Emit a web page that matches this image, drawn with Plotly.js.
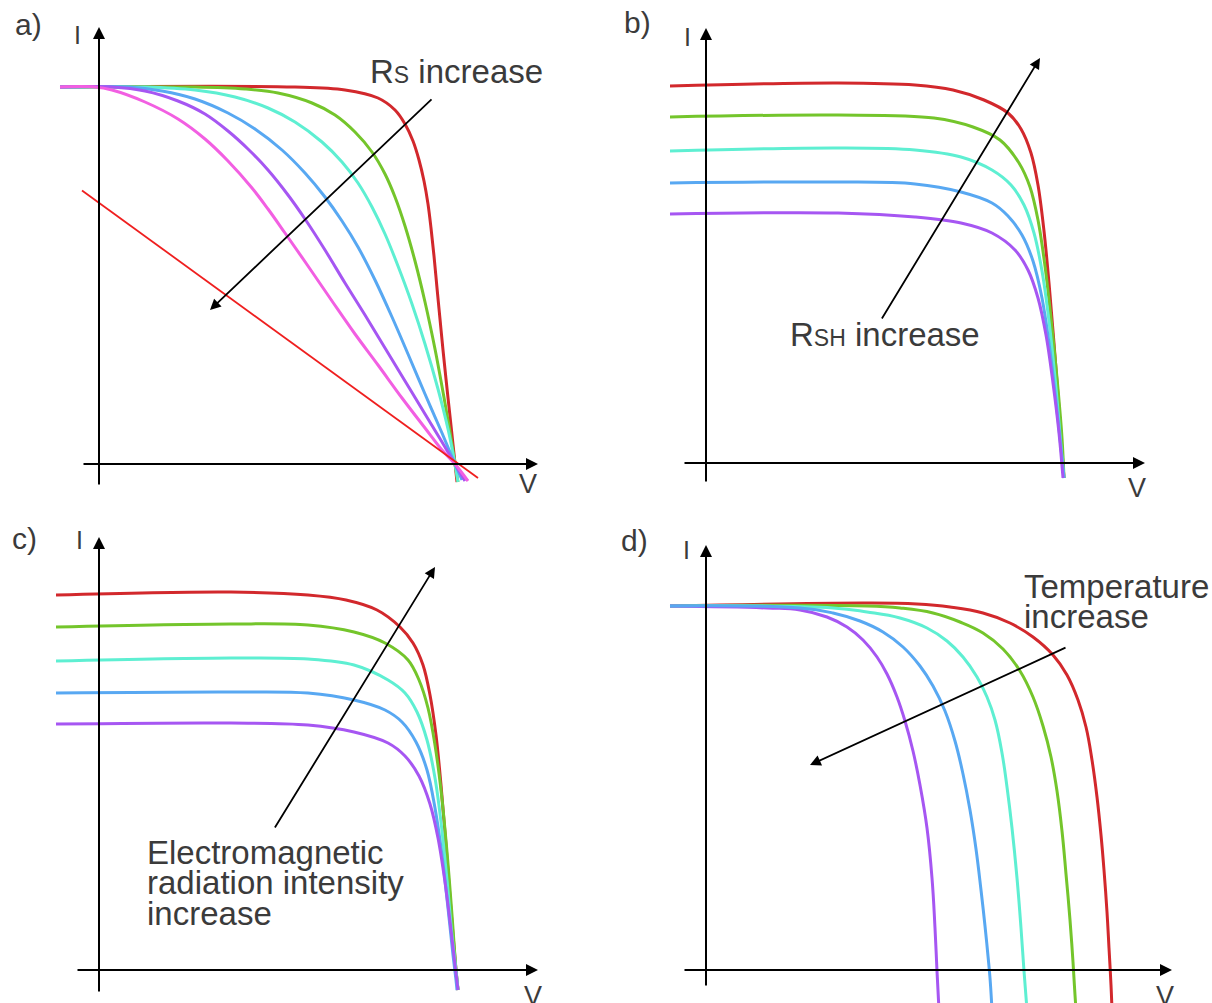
<!DOCTYPE html>
<html>
<head>
<meta charset="utf-8">
<script src="https://cdn.plot.ly/plotly-3.0.1.min.js"></script>
<style>html,body{margin:0;padding:0;background:#fff;}#chart{width:1212px;height:1003px;}</style>
</head>
<body>
<div id="chart"></div>
<script>
// Panel a) series resistance Rs
const aRedV = [-39, 196, 246, 279, 296, 306, 314, 320, 325, 329, 332, 335, 338, 341, 344, 347, 350, 353, 356, 358];
const aRedI = [377, 377, 374, 366, 354, 340, 323, 304, 283, 260, 236, 208, 176, 145, 114, 85, 57, 29, 1, -18];
const aGreenV = [-39, 96, 146, 179, 213, 236, 256, 273, 286, 296, 306, 316, 326, 336, 344, 351, 356, 359];
const aGreenI = [377, 377, 375, 371, 361, 349, 332, 312, 290, 267, 238, 203, 162, 115, 72, 32, 0, -18];
const aCyanV = [-39, 46, 96, 136, 169, 196, 223, 243, 259, 273, 286, 299, 313, 326, 339, 349, 356, 359];
const aCyanI = [377, 377, 374, 367, 356, 342, 322, 302, 281, 257, 230, 198, 160, 120, 75, 35, 0, -18];
const aBlueV = [-39, 29, 63, 96, 129, 156, 183, 206, 226, 243, 259, 276, 293, 309, 326, 343, 356, 363];
const aBlueI = [377, 377, 373, 365, 351, 335, 314, 291, 267, 243, 217, 184, 147, 110, 70, 31, 0, -16];
const aPurpleV = [-39, 13, 46, 79, 106, 129, 149, 169, 189, 206, 226, 246, 266, 286, 306, 326, 343, 356, 366];
const aPurpleI = [377, 377, 373, 363, 350, 333, 315, 294, 269, 245, 214, 181, 149, 116, 83, 50, 22, 0, -17];
const aMagentaV = [-39, -4, 13, 46, 79, 106, 129, 153, 169, 186, 209, 233, 256, 279, 303, 326, 343, 356, 369];
const aMagentaI = [377, 377, 374, 362, 345, 325, 303, 276, 255, 231, 198, 163, 130, 99, 66, 36, 14, 0, -17];
const aLineV = [-17, 379];
const aLineI = [273.5, -14];

// Panel b) shunt resistance Rsh
const bRedV = [-36, 132, 209, 247, 278, 302, 315, 325, 332, 338, 343, 348, 353, 358];
const bRedI = [377, 380, 378, 373, 363, 350, 334, 310, 278, 232, 180, 120, 55, -15];
const bGreenV = [-36, 132, 228, 267, 294, 313, 324, 332, 339, 345, 351, 356, 358];
const bGreenI = [346, 348, 345, 336, 323, 300, 276, 243, 197, 145, 85, 25, -15];
const bCyanV = [-36, 132, 209, 255, 286, 305, 318, 328, 336, 343, 350, 356, 358];
const bCyanI = [312, 315, 313, 306, 293, 278, 258, 230, 192, 142, 75, 5, -15];
const bBlueV = [-36, 132, 209, 255, 286, 302, 316, 327, 336, 343, 350, 356, 358];
const bBlueI = [280, 281, 279, 271, 260, 247, 228, 202, 165, 120, 62, 5, -15];
const bPurpleV = [-36, 132, 209, 255, 286, 309, 322, 332, 340, 347, 353, 357];
const bPurpleI = [249, 250, 246, 240, 230, 213, 193, 165, 128, 80, 30, -15];

// Panel c) radiation intensity
const cRedV = [-43, 132, 209, 247, 278, 301, 314, 324, 331, 337, 342, 347, 352, 357, 359];
const cRedI = [375, 378, 375, 370, 360, 343, 327, 305, 275, 235, 185, 125, 60, 0, -20];
const cGreenV = [-43, 132, 209, 255, 286, 309, 320, 329, 336, 342, 348, 353, 357, 359];
const cGreenI = [343, 346, 345, 338, 327, 310, 290, 262, 225, 180, 118, 55, 0, -20];
const cCyanV = [-43, 132, 209, 255, 289, 306, 318, 328, 336, 342, 348, 353, 357, 359];
const cCyanI = [309, 312, 311, 305, 290, 277, 258, 230, 192, 148, 90, 35, 0, -20];
const cBlueV = [-43, 132, 209, 255, 286, 303, 317, 328, 336, 343, 349, 354, 357, 358];
const cBlueI = [277, 278, 277, 270, 260, 248, 228, 200, 162, 115, 62, 15, -10, -20];
const cPurpleV = [-43, 132, 209, 255, 289, 306, 320, 331, 339, 346, 352, 356, 359];
const cPurpleI = [246, 247, 245, 238, 227, 214, 194, 166, 132, 88, 40, 5, -20];

// Panel d) temperature
const dRedV = [-36, 161, 211, 244, 277, 304, 327, 347, 361, 372, 380, 386, 391, 395, 398, 401, 403, 405, 406];
const dRedI = [364, 367, 366, 363, 357, 347, 333, 315, 295, 270, 243, 210, 173, 135, 100, 58, 22, -15, -40];
const dGreenV = [-36, 161, 194, 227, 254, 277, 297, 314, 327, 337, 345, 351, 356, 360, 364, 367, 369, 370];
const dGreenI = [364, 364, 362, 357, 348, 337, 321, 299, 273, 244, 213, 179, 139, 96, 50, 8, -25, -40];
const dCyanV = [-36, 127, 161, 194, 221, 241, 257, 271, 281, 289, 296, 301, 306, 311, 315, 318, 321];
const dCyanI = [364, 362, 358, 352, 342, 329, 313, 293, 273, 250, 217, 183, 142, 92, 42, -1, -40];
const dPurpleV = [-36, 61, 94, 121, 141, 157, 171, 181, 191, 199, 207, 214, 221, 226, 229, 231, 233];
const dPurpleI = [364, 362, 360, 353, 343, 330, 313, 296, 273, 249, 219, 185, 142, 92, 42, -1, -40];
const dBlueV = [-36, 94, 127, 154, 177, 197, 214, 227, 239, 249, 257, 264, 270, 275, 279, 282, 284, 286];
const dBlueI = [364, 362, 357, 349, 338, 323, 304, 284, 259, 229, 196, 160, 121, 80, 44, 14, -8, -40];

// Labels
const panelLabels = ['a)', 'b)', 'c)', 'd)'];
const axisLabelI = 'I';
const axisLabelV = 'V';
const textA = 'R<span style="font-size:23px">S</span> increase';
const textB = 'R<span style="font-size:23px">SH</span> increase';
const textC = ['Electromagnetic', 'radiation intensity', 'increase'];
const textD = ['Temperature', 'increase'];

// ---------- Styles ----------
const COL = {
  red: '#d2282c', green: '#74c52b', cyan: '#5eefd2', blue: '#58a8f2',
  purple: '#a656f2', magenta: '#f25fe2', line: '#ef1f1f'
};
const FONT = 'Liberation Sans, Arial, sans-serif';
const TXT = '#3b3b3b';

function curve(V, I, color, xa, ya, smooth) {
  return {
    x: V, y: I, xaxis: xa, yaxis: ya, type: 'scatter', mode: 'lines',
    line: {color: color, width: 3, shape: 'spline', smoothing: smooth || 1},
    hoverinfo: 'skip', showlegend: false
  };
}

const traces = [
  curve(aRedV, aRedI, COL.red, 'x', 'y'),
  curve(aGreenV, aGreenI, COL.green, 'x', 'y'),
  curve(aCyanV, aCyanI, COL.cyan, 'x', 'y'),
  curve(aBlueV, aBlueI, COL.blue, 'x', 'y'),
  curve(aPurpleV, aPurpleI, COL.purple, 'x', 'y'),
  curve(aMagentaV, aMagentaI, COL.magenta, 'x', 'y'),
  {x: aLineV, y: aLineI, xaxis: 'x', yaxis: 'y', type: 'scatter', mode: 'lines',
   line: {color: COL.line, width: 1.8}, hoverinfo: 'skip', showlegend: false},

  curve(bRedV, bRedI, COL.red, 'x2', 'y2'),
  curve(bGreenV, bGreenI, COL.green, 'x2', 'y2'),
  curve(bCyanV, bCyanI, COL.cyan, 'x2', 'y2'),
  curve(bBlueV, bBlueI, COL.blue, 'x2', 'y2'),
  curve(bPurpleV, bPurpleI, COL.purple, 'x2', 'y2'),

  curve(cRedV, cRedI, COL.red, 'x3', 'y3'),
  curve(cGreenV, cGreenI, COL.green, 'x3', 'y3'),
  curve(cCyanV, cCyanI, COL.cyan, 'x3', 'y3'),
  curve(cBlueV, cBlueI, COL.blue, 'x3', 'y3'),
  curve(cPurpleV, cPurpleI, COL.purple, 'x3', 'y3'),

  curve(dRedV, dRedI, COL.red, 'x4', 'y4', 1.2),
  curve(dGreenV, dGreenI, COL.green, 'x4', 'y4', 1.2),
  curve(dCyanV, dCyanI, COL.cyan, 'x4', 'y4', 1.2),
  curve(dPurpleV, dPurpleI, COL.purple, 'x4', 'y4', 1.2),
  curve(dBlueV, dBlueI, COL.blue, 'x4', 'y4', 1.2)
];

function hiddenAxis(domain, range, anchor) {
  return {domain: domain, range: range, anchor: anchor, visible: false,
          showgrid: false, zeroline: false, fixedrange: true};
}

// arrow helper: tip (x,y), tail (ax,ay) in data coords
function arrow(xr, yr, tail, tip, opts) {
  return Object.assign({
    xref: xr, yref: yr, axref: xr, ayref: yr,
    x: tip[0], y: tip[1], ax: tail[0], ay: tail[1],
    text: '', showarrow: true, arrowhead: 2, arrowsize: 1.2,
    arrowwidth: 2, arrowcolor: '#000', standoff: 0, startstandoff: 0
  }, opts || {});
}
function label(xr, yr, x, y, text, size, anchor) {
  return {xref: xr, yref: yr, x: x, y: y, text: text, showarrow: false,
          xanchor: anchor || 'center', yanchor: 'middle',
          font: {family: FONT, size: size, color: TXT}};
}

const axisArrows = [
  arrow('x', 'y', [0, -22], [0, 437]), arrow('x', 'y', [-17, 0], [439, 0]),
  arrow('x2', 'y2', [0, -20], [0, 435]), arrow('x2', 'y2', [-23, 0], [439, 0]),
  arrow('x3', 'y3', [0, -23], [0, 433]), arrow('x3', 'y3', [-23, 0], [439, 0]),
  arrow('x4', 'y4', [0, -17], [0, 425]), arrow('x4', 'y4', [-23, 0], [466, 0])
];

const trendArrows = [
  arrow('x', 'y', [334, 366], [111, 154], {arrowwidth: 1.8}),
  arrow('x2', 'y2', [175, 143], [334, 405], {arrowwidth: 1.8}),
  arrow('x3', 'y3', [175, 141], [336, 403], {arrowwidth: 1.8}),
  arrow('x4', 'y4', [361, 323], [104, 205], {arrowwidth: 1.8})
];

const labels = [
  label('x', 'y', -71, 440, panelLabels[0], 30),
  label('x2', 'y2', -69, 441, panelLabels[1], 30),
  label('x3', 'y3', -75, 432, panelLabels[2], 30),
  label('x4', 'y4', -72, 430, panelLabels[3], 30),

  label('x', 'y', -22, 429, axisLabelI, 25),
  label('x2', 'y2', -19, 426, axisLabelI, 25),
  label('x3', 'y3', -20, 430, axisLabelI, 25),
  label('x4', 'y4', -20, 420, axisLabelI, 25),

  label('x', 'y', 429, -20, axisLabelV, 27),
  label('x2', 'y2', 431, -25, axisLabelV, 27),
  label('x3', 'y3', 434, -26, axisLabelV, 27),
  label('x4', 'y4', 459, -26, axisLabelV, 27),

  label('x', 'y', 269, 393, textA, 33, 'left'),
  label('x2', 'y2', 82, 129, textB, 33, 'left'),
  label('x3', 'y3', 46, 118, textC[0], 33, 'left'),
  label('x3', 'y3', 46, 88, textC[1], 33, 'left'),
  label('x3', 'y3', 46, 57, textC[2], 33, 'left'),
  label('x4', 'y4', 316, 384, textD[0], 33, 'left'),
  label('x4', 'y4', 316, 354, textD[1], 33, 'left')
];

const layout = {
  width: 1212, height: 1003,
  margin: {l: 0, r: 0, t: 0, b: 0, pad: 0},
  paper_bgcolor: '#ffffff', plot_bgcolor: 'rgba(0,0,0,0)',
  showlegend: false,
  xaxis: hiddenAxis([0, 0.5], [-99, 507], 'y'),
  yaxis: hiddenAxis([0.5, 1], [-37.5, 464], 'x'),
  xaxis2: hiddenAxis([0.5, 1], [-100, 506], 'y2'),
  yaxis2: hiddenAxis([0.5, 1], [-38.5, 463], 'x2'),
  xaxis3: hiddenAxis([0, 0.5], [-99, 507], 'y3'),
  yaxis3: hiddenAxis([0, 0.5], [-33, 468.5], 'x3'),
  xaxis4: hiddenAxis([0.5, 1], [-100, 506], 'y4'),
  yaxis4: hiddenAxis([0, 0.5], [-33, 468.5], 'x4'),
  annotations: axisArrows.concat(trendArrows, labels)
};

Plotly.newPlot('chart', traces, layout, {staticPlot: true, displayModeBar: false});
</script>
</body>
</html>
